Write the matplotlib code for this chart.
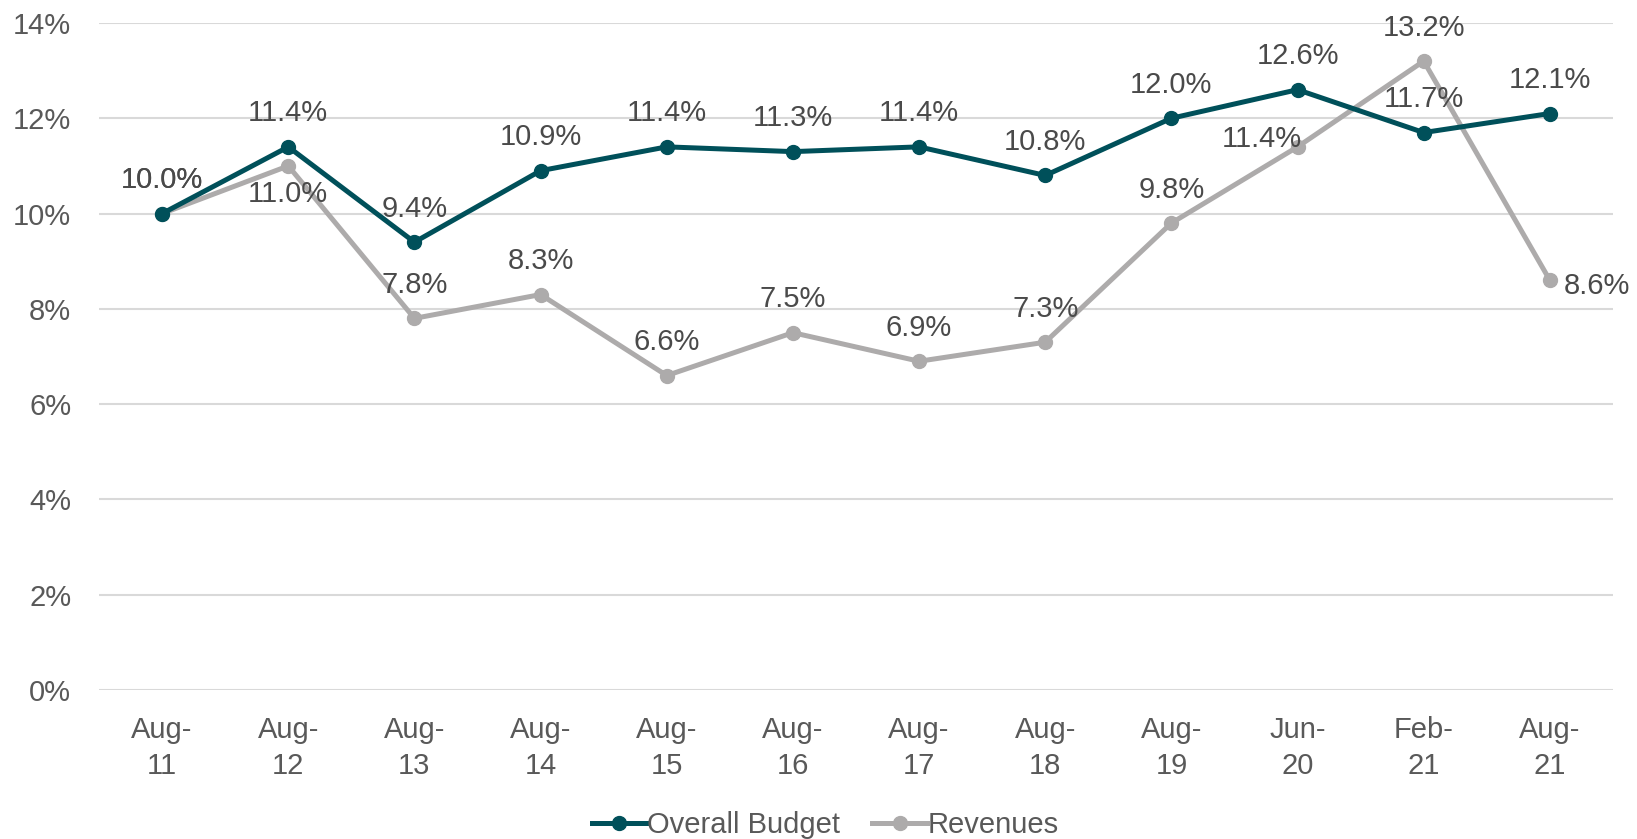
import matplotlib
matplotlib.use('Agg')
import matplotlib.pyplot as plt
from matplotlib.ticker import FuncFormatter

plt.rcParams['font.family'] = ['Liberation Sans Narrow', 'Liberation Sans', 'DejaVu Sans']

###############################################################################
# Data
###############################################################################
LABELS = [
    'Aug-\n11', 'Aug-\n12', 'Aug-\n13', 'Aug-\n14', 'Aug-\n15', 'Aug-\n16',
    'Aug-\n17', 'Aug-\n18', 'Aug-\n19', 'Jun-\n20', 'Feb-\n21', 'Aug-\n21'
]
BUDGET = [10.0, 11.4, 9.4, 10.9, 11.4, 11.3, 11.4, 10.8, 12.0, 12.6, 11.7, 12.1]
REVENUES = [10.0, 11.0, 7.8, 8.3, 6.6, 7.5, 6.9, 7.3, 9.8, 11.4, 13.2, 8.6]
# where each revenue label sits relative to its point
REV_POS = ['up', 'down', 'up', 'up', 'up', 'up', 'up', 'up', 'up', 'left', 'up', 'right']

(C_BUD, C_REV, C_TXT, C_LBL, C_GRID) = ('#00505A', '#ADABAB', '#595959', '#4A4A4A', '#D9D9D9')
FS = 21
###############################################################################
# Plot
###############################################################################
fig = plt.figure(figsize=(16.37, 8.39), dpi=100)
ax = fig.add_axes([0.0605, 0.1776, 0.9248, 0.795])
xs = list(range(len(LABELS)))
ax.plot(
    xs, [v/100 for v in REVENUES], color=C_REV, lw=3.6, marker='o', ms=10,
    label='Revenues', zorder=3
)
ax.plot(
    xs, [v/100 for v in BUDGET], color=C_BUD, lw=3.6, marker='o', ms=10,
    label='Overall Budget', zorder=4
)
# data labels -----------------------------------------------------------------
for (x, v) in zip(xs, BUDGET):
    ax.annotate(
        '{:.1f}%'.format(v), (x, v/100), xytext=(0, 14), textcoords='offset points',
        ha='center', va='bottom', fontsize=FS, color=C_LBL, zorder=5
    )
offs = {
    'up': ((0, 14), 'center', 'bottom'), 'down': ((0, -10), 'center', 'top'),
    'left': ((3, 6), 'right', 'center'), 'right': ((10, -4), 'left', 'center')
}
for (x, v, p) in zip(xs, REVENUES, REV_POS):
    (xy, ha, va) = offs[p]
    ax.annotate(
        '{:.1f}%'.format(v), (x, v/100), xytext=xy, textcoords='offset points',
        ha=ha, va=va, fontsize=FS, color=C_LBL, zorder=5
    )
# axes ------------------------------------------------------------------------
ax.set_xlim(-0.5, len(LABELS)-0.5)
ax.set_ylim(0, 0.14)
ax.set_yticks([i/100 for i in range(0, 15, 2)])
ax.yaxis.set_major_formatter(FuncFormatter(lambda y, _: '{:.0f}%'.format(y*100)))
ax.set_xticks(xs)
ax.set_xticklabels(LABELS, linespacing=1.35)
ax.tick_params(axis='both', length=0, labelsize=FS, labelcolor=C_TXT)
ax.tick_params(axis='x', pad=19)
ax.tick_params(axis='y', pad=20)
ax.grid(axis='y', color=C_GRID, lw=1.5)
ax.set_axisbelow(True)
for sp in ax.spines.values():
    sp.set_visible(False)
# legend ----------------------------------------------------------------------
(h, l) = ax.get_legend_handles_labels()
fig.legend(
    h[::-1], l[::-1], loc='center', bbox_to_anchor=(0.504, 0.017), ncol=2,
    frameon=False, fontsize=FS, labelcolor=C_TXT, handlelength=1.9,
    handletextpad=0.0, columnspacing=1.1
)
fig.savefig('out.png', dpi=100, facecolor='white')
plt.close('all')
